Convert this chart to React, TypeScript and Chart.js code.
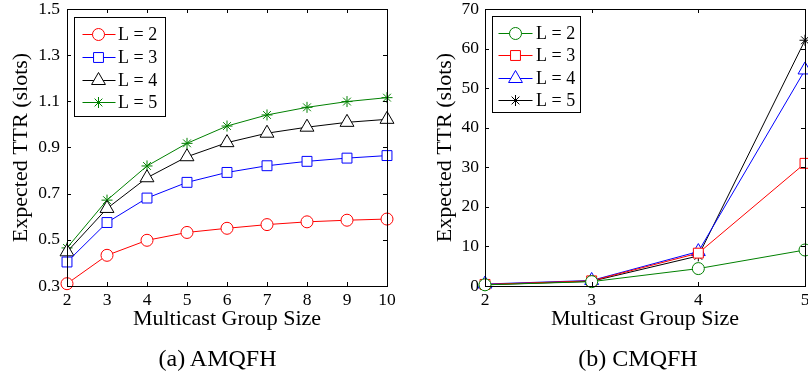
import React, { useEffect, useRef } from 'react';
import { Chart, registerables } from 'chart.js';

Chart.register(...registerables);

// ---------- data ----------
const seriesLabels = ['L = 2', 'L = 3', 'L = 4', 'L = 5'];

const groupSizesA = ['2', '3', '4', '5', '6', '7', '8', '9', '10'];
const amqfhL2 = [0.31, 0.433, 0.498, 0.532, 0.55, 0.566, 0.578, 0.585, 0.59];
const amqfhL3 = [0.404, 0.575, 0.681, 0.749, 0.792, 0.821, 0.84, 0.854, 0.865];
const amqfhL4 = [0.448, 0.636, 0.769, 0.86, 0.921, 0.962, 0.988, 1.009, 1.022];
const amqfhL5 = [0.465, 0.672, 0.82, 0.918, 0.993, 1.041, 1.074, 1.099, 1.116];
const yTicksA = [0.3, 0.5, 0.7, 0.9, 1.1, 1.3, 1.5];

const groupSizesB = ['2', '3', '4', '5'];
const cmqfhL2 = [0.3, 1.1, 4.4, 9.1];
const cmqfhL3 = [0.4, 1.3, 8.3, 31.0];
const cmqfhL4 = [0.5, 1.4, 8.7, 54.6];
const cmqfhL5 = [0.3, 1.2, 7.6, 62.1];
const yTicksB = [0, 10, 20, 30, 40, 50, 60, 70];

const captionA = '(a) AMQFH';
const captionB = '(b) CMQFH';
const xTitle = 'Multicast Group Size';
const yTitle = 'Expected TTR (slots)';

// ---------- styles ----------
const RED = '#ff0000';
const BLUE = '#0000ff';
const BLACK = '#000000';
const GREEN = '#008000';
const FONT = '"Liberation Serif", "Times New Roman", serif';

type Style = { color: string; pointStyle: string; radius: number };
const styleA: Style[] = [
  { color: RED, pointStyle: 'circle', radius: 6 },
  { color: BLUE, pointStyle: 'rect', radius: 7 },
  { color: BLACK, pointStyle: 'triangle', radius: 8 },
  { color: GREEN, pointStyle: 'star', radius: 5.5 },
];
const styleB: Style[] = [
  { color: GREEN, pointStyle: 'circle', radius: 6 },
  { color: RED, pointStyle: 'rect', radius: 7 },
  { color: BLUE, pointStyle: 'triangle', radius: 8 },
  { color: BLACK, pointStyle: 'star', radius: 5.5 },
];

function drawMarker(ctx: CanvasRenderingContext2D, s: Style, x: number, y: number) {
  const r = s.radius;
  ctx.save();
  ctx.strokeStyle = s.color;
  ctx.fillStyle = '#ffffff';
  ctx.lineWidth = 1;
  ctx.beginPath();
  if (s.pointStyle === 'circle') {
    ctx.arc(x, y, r, 0, Math.PI * 2);
    ctx.fill();
    ctx.stroke();
  } else if (s.pointStyle === 'rect') {
    const h = Math.SQRT1_2 * r;
    ctx.rect(x - h, y - h, 2 * h, 2 * h);
    ctx.fill();
    ctx.stroke();
  } else if (s.pointStyle === 'triangle') {
    let a = 0;
    ctx.moveTo(x + Math.sin(a) * r, y - Math.cos(a) * r);
    a += (2 * Math.PI) / 3;
    ctx.lineTo(x + Math.sin(a) * r, y - Math.cos(a) * r);
    a += (2 * Math.PI) / 3;
    ctx.lineTo(x + Math.sin(a) * r, y - Math.cos(a) * r);
    ctx.closePath();
    ctx.fill();
    ctx.stroke();
  } else {
    ctx.moveTo(x - r, y);
    ctx.lineTo(x + r, y);
    ctx.moveTo(x, y - r);
    ctx.lineTo(x, y + r);
    const d = r * Math.SQRT1_2;
    ctx.moveTo(x - d, y - d);
    ctx.lineTo(x + d, y + d);
    ctx.moveTo(x - d, y + d);
    ctx.lineTo(x + d, y - d);
    ctx.stroke();
  }
  ctx.restore();
}

type LegendCfg = {
  dx: number; dy: number; w: number; h: number; row0: number; rowGap: number;
  lineX0: number; lineX1: number; markX: number; textX: number;
};

function makeFramePlugin(styles: Style[], legend: LegendCfg) {
  return {
    id: 'matlabFrame',
    afterDatasetsDraw(chart: any) {
      const ctx: CanvasRenderingContext2D = chart.ctx;
      const a = chart.chartArea;
      const xs = chart.scales.x;
      const ys = chart.scales.y;
      const tl = 4;
      ctx.save();
      ctx.strokeStyle = '#000';
      ctx.lineWidth = 1;
      ctx.beginPath();
      xs.ticks.forEach((_t: any, i: number) => {
        const px = Math.round(xs.getPixelForTick(i)) + 0.5;
        ctx.moveTo(px, a.bottom);
        ctx.lineTo(px, a.bottom - tl);
        ctx.moveTo(px, a.top);
        ctx.lineTo(px, a.top + tl);
      });
      ys.ticks.forEach((_t: any, i: number) => {
        const py = Math.round(ys.getPixelForTick(i)) + 0.5;
        ctx.moveTo(a.left, py);
        ctx.lineTo(a.left + tl, py);
        ctx.moveTo(a.right, py);
        ctx.lineTo(a.right - tl, py);
      });
      ctx.stroke();
      ctx.strokeRect(Math.round(a.left) + 0.5, Math.round(a.top) + 0.5,
        Math.round(a.right - a.left), Math.round(a.bottom - a.top));

      // legend
      const bx = Math.round(a.left + legend.dx) + 0.5;
      const by = Math.round(a.top + legend.dy) + 0.5;
      ctx.fillStyle = '#fff';
      ctx.fillRect(bx, by, legend.w, legend.h);
      ctx.strokeStyle = '#000';
      ctx.lineWidth = 1;
      ctx.strokeRect(bx, by, legend.w, legend.h);
      ctx.font = `18px ${FONT}`;
      ctx.textBaseline = 'middle';
      ctx.textAlign = 'left';
      seriesLabels.forEach((lab, i) => {
        const s = styles[i];
        const y = Math.round(by + legend.row0 + i * legend.rowGap) + 0.5;
        ctx.strokeStyle = s.color;
        ctx.beginPath();
        ctx.moveTo(bx + legend.lineX0, y);
        ctx.lineTo(bx + legend.lineX1, y);
        ctx.stroke();
        drawMarker(ctx, s, bx + legend.markX, y);
        ctx.fillStyle = '#000';
        ctx.fillText(lab, bx + legend.textX, y + 1);
      });
      ctx.restore();
    },
  };
}

function buildConfig(
  labels: string[], series: number[][], styles: Style[], yTicks: number[],
  fmt: (v: number) => string, pad: any, yWidth: number, xHeight: number, legend: LegendCfg,
  tickPadY: number,
) {
  return {
    type: 'line' as const,
    data: {
      labels,
      datasets: series.map((d, i) => ({
        label: seriesLabels[i],
        data: d,
        borderColor: styles[i].color,
        backgroundColor: styles[i].color,
        borderWidth: 1,
        pointStyle: styles[i].pointStyle,
        pointRadius: styles[i].radius,
        pointBorderWidth: 1,
        pointBorderColor: styles[i].color,
        pointBackgroundColor: '#ffffff',
        fill: false,
        tension: 0,
        clip: false as any,
      })),
    },
    options: {
      responsive: false,
      animation: false as const,
      devicePixelRatio: 1,
      layout: { padding: pad },
      plugins: { legend: { display: false }, tooltip: { enabled: false } },
      scales: {
        x: {
          type: 'category' as const,
          offset: false,
          grid: { display: false, drawTicks: false },
          border: { display: false },
          ticks: { color: '#000', font: { family: FONT, size: 17.5 }, padding: 4, maxRotation: 0, autoSkip: false },
          title: { display: true, text: xTitle, color: '#000', font: { family: FONT, size: 22 }, padding: 0 },
          afterFit: (s: any) => { s.height = xHeight; },
        },
        y: {
          type: 'linear' as const,
          min: yTicks[0],
          max: yTicks[yTicks.length - 1],
          grid: { display: false, drawTicks: false },
          border: { display: false },
          ticks: {
            color: '#000', font: { family: FONT, size: 17.5 }, padding: tickPadY,
            callback: (v: any) => fmt(Number(v)),
          },
          afterBuildTicks: (s: any) => { s.ticks = yTicks.map((v) => ({ value: v })); },
          title: { display: true, text: yTitle, color: '#000', font: { family: FONT, size: 22 }, padding: 0 },
          afterFit: (s: any) => { s.width = yWidth; s.paddingTop = 0; s.paddingBottom = 0; },
        },
      },
    },
    plugins: [makeFramePlugin(styles, legend)],
  };
}

export default function App() {
  const refA = useRef<HTMLCanvasElement | null>(null);
  const refB = useRef<HTMLCanvasElement | null>(null);

  useEffect(() => {
    const legendA: LegendCfg = { dx: 6.5, dy: 7.5, w: 91, h: 99, row0: 16.5, rowGap: 22.8, lineX0: 8, lineX1: 41, markX: 24, textX: 43.5 };
    const legendB: LegendCfg = { dx: 7, dy: 6.5, w: 88, h: 96, row0: 16, rowGap: 22.6, lineX0: 6, lineX1: 40, markX: 23, textX: 43.5 };
    const cA = new Chart(refA.current as HTMLCanvasElement, buildConfig(
      groupSizesA, [amqfhL2, amqfhL3, amqfhL4, amqfhL5], styleA, yTicksA,
      (v) => v.toFixed(1), { left: 8, right: 17, top: 9, bottom: 46 }, 59, 46, legendA, 7,
    ) as any);
    const cB = new Chart(refB.current as HTMLCanvasElement, buildConfig(
      groupSizesB, [cmqfhL2, cmqfhL3, cmqfhL4, cmqfhL5], styleB, yTicksB,
      (v) => String(Math.round(v)), { left: 28, right: 19, top: 9, bottom: 46 }, 53, 46, legendB, 6,
    ) as any);
    return () => { cA.destroy(); cB.destroy(); };
  }, []);

  const capStyle: React.CSSProperties = {
    position: 'absolute', top: 344, width: 240, textAlign: 'center',
    fontFamily: FONT, fontSize: 24, lineHeight: '28px', color: '#000',
  };

  return (
    <div style={{ position: 'fixed', left: 0, top: 0, width: 808, height: 378, overflow: 'hidden', background: '#fff' }}>
      <div style={{ position: 'absolute', left: 0, top: 0, width: 404, height: 378 }}>
        <canvas ref={refA} width={404} height={378} style={{ display: 'block' }} />
      </div>
      <div style={{ position: 'absolute', left: 404, top: 0, width: 420, height: 378 }}>
        <canvas ref={refB} width={420} height={378} style={{ display: 'block' }} />
      </div>
      <div style={{ ...capStyle, left: 217.5 - 120 }}>{captionA}</div>
      <div style={{ ...capStyle, left: 638 - 120 }}>{captionB}</div>
    </div>
  );
}
